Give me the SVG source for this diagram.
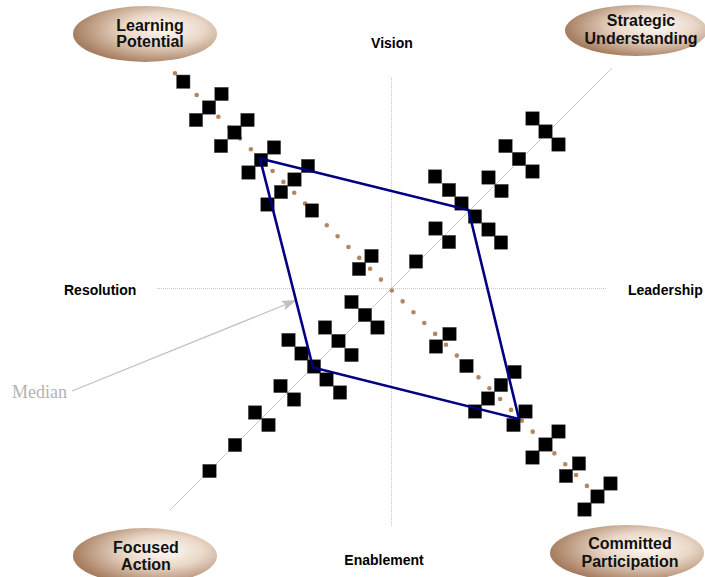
<svg xmlns="http://www.w3.org/2000/svg" xmlns:xlink="http://www.w3.org/1999/xlink" width="705" height="577" viewBox="0 0 705 577">
<style>
.lbl{font-family:"Liberation Sans",Arial,sans-serif;font-weight:bold;font-size:16px;fill:#111;text-anchor:middle}
.ax{font-family:"Liberation Sans",Arial,sans-serif;font-weight:bold;font-size:14px;fill:#000}
.guide{stroke:#c8c8c8;stroke-width:1;stroke-dasharray:1 1;fill:none}
</style>
<defs>
<radialGradient id="eg" cx="0.62" cy="0.42" r="0.62" fx="0.64" fy="0.4">
<stop offset="0" stop-color="#fdfaf6"/>
<stop offset="0.45" stop-color="#ead8c8"/>
<stop offset="1" stop-color="#a67e60"/>
</radialGradient>
<rect id="sq" x="-6.7" y="-6.7" width="13.4" height="13.4" fill="#000" stroke="#555" stroke-width="0.5"/>
<marker id="arr" markerWidth="16" markerHeight="12" refX="15" refY="5" orient="auto" markerUnits="userSpaceOnUse">
<path d="M0,0 L15,5 L0,10 L3,5 Z" fill="#c0c0c0"/>
</marker>
</defs>
<rect width="705" height="577" fill="#fff"/>

<g id="connectors">
<line class="guide" x1="157" y1="288.5" x2="607" y2="288.5"/>
<line class="guide" x1="391.5" y1="77" x2="391.5" y2="526"/>
<line x1="170" y1="510" x2="612" y2="68" stroke="#c8c8c8" stroke-width="1"/>
<line x1="175" y1="73.3" x2="587.3" y2="486.3" stroke="#b5865f" stroke-width="4.6" stroke-linecap="round" stroke-dasharray="0 15.343"/>
<line x1="72" y1="391" x2="296.7" y2="300" stroke="#c0c0c0" stroke-width="1.2" marker-end="url(#arr)"/>
</g>

<g id="squares">
<use href="#sq" x="183.3" y="81.7"/><use href="#sq" x="221.5" y="94"/><use href="#sq" x="209" y="107.5"/><use href="#sq" x="196" y="120"/>
<use href="#sq" x="247.5" y="120"/><use href="#sq" x="234.5" y="132.5"/><use href="#sq" x="221" y="146"/><use href="#sq" x="274" y="147.5"/>
<use href="#sq" x="261" y="160"/><use href="#sq" x="248.5" y="172.5"/><use href="#sq" x="308" y="166"/><use href="#sq" x="294.5" y="179.5"/>
<use href="#sq" x="281" y="192"/><use href="#sq" x="267.5" y="204.5"/><use href="#sq" x="312" y="210.5"/><use href="#sq" x="371.5" y="256"/>
<use href="#sq" x="359" y="269"/>

<use href="#sq" x="532.5" y="118.5"/><use href="#sq" x="545.5" y="131.5"/><use href="#sq" x="558.5" y="144.5"/><use href="#sq" x="505.5" y="146"/>
<use href="#sq" x="519" y="159"/><use href="#sq" x="532.5" y="171.5"/><use href="#sq" x="488.5" y="177.5"/><use href="#sq" x="501.5" y="191"/>
<use href="#sq" x="435" y="176.5"/><use href="#sq" x="449" y="190"/><use href="#sq" x="461.5" y="203.5"/><use href="#sq" x="475" y="216.5"/>
<use href="#sq" x="488.5" y="229.5"/><use href="#sq" x="501" y="242.5"/><use href="#sq" x="435.5" y="228.5"/><use href="#sq" x="449" y="242"/>
<use href="#sq" x="416" y="261.5"/>

<use href="#sq" x="351.5" y="302"/><use href="#sq" x="365" y="315"/><use href="#sq" x="377.5" y="327.5"/><use href="#sq" x="325" y="327.5"/>
<use href="#sq" x="338.5" y="341"/><use href="#sq" x="351.5" y="355"/><use href="#sq" x="288.5" y="340"/><use href="#sq" x="301.5" y="353.5"/>
<use href="#sq" x="314" y="366.5"/><use href="#sq" x="326.5" y="379.5"/><use href="#sq" x="340" y="392.5"/><use href="#sq" x="280.5" y="386"/>
<use href="#sq" x="294" y="399.5"/><use href="#sq" x="255" y="412.5"/><use href="#sq" x="268.5" y="425"/><use href="#sq" x="235" y="445"/>
<use href="#sq" x="209.5" y="471"/>

<use href="#sq" x="449.5" y="334"/><use href="#sq" x="436" y="346.5"/><use href="#sq" x="466.5" y="366"/><use href="#sq" x="514.5" y="372"/>
<use href="#sq" x="501" y="385"/><use href="#sq" x="488" y="398.5"/><use href="#sq" x="475" y="411.5"/><use href="#sq" x="525.5" y="411.5"/>
<use href="#sq" x="513.5" y="425"/><use href="#sq" x="558.5" y="431.5"/><use href="#sq" x="545.5" y="444.5"/><use href="#sq" x="532.5" y="457.5"/>
<use href="#sq" x="579" y="463.5"/><use href="#sq" x="566" y="476"/><use href="#sq" x="610.5" y="483.5"/><use href="#sq" x="597.5" y="496.5"/>
<use href="#sq" x="584.5" y="509.5"/>
</g>

<g id="median-region">
<polygon points="260,158.5 468.5,210 519,419 313,367.5" fill="none" stroke="#000080" stroke-width="2.6" stroke-linejoin="miter"/>
</g>

<g id="learning-potential">
<ellipse cx="145" cy="34" rx="72" ry="28" fill="url(#eg)"/>
<text class="lbl" x="150" y="30.5">Learning</text>
<text class="lbl" x="150" y="47">Potential</text>
</g>
<g id="strategic-understanding">
<ellipse cx="636" cy="30.5" rx="71" ry="25.5" fill="url(#eg)"/>
<text class="lbl" x="641" y="26">Strategic</text>
<text class="lbl" x="641" y="43.5">Understanding</text>
</g>
<g id="focused-action">
<ellipse cx="145" cy="556" rx="72" ry="28" fill="url(#eg)"/>
<text class="lbl" x="146" y="553">Focused</text>
<text class="lbl" x="146" y="569.5">Action</text>
</g>
<g id="committed-participation">
<ellipse cx="627" cy="553" rx="77" ry="28" fill="url(#eg)"/>
<text class="lbl" x="630" y="549">Committed</text>
<text class="lbl" x="630" y="566.5">Participation</text>
</g>

<g id="axis-labels">
<text class="ax" x="392" y="48" text-anchor="middle">Vision</text>
<text class="ax" x="384" y="565" text-anchor="middle">Enablement</text>
<text class="ax" x="64" y="295">Resolution</text>
<text class="ax" x="628" y="295">Leadership</text>
</g>
<g id="median-label">
<text x="12" y="398" font-family="'Liberation Serif','Times New Roman',serif" font-size="18" fill="#b3b3b3">Median</text>
</g>
</svg>
